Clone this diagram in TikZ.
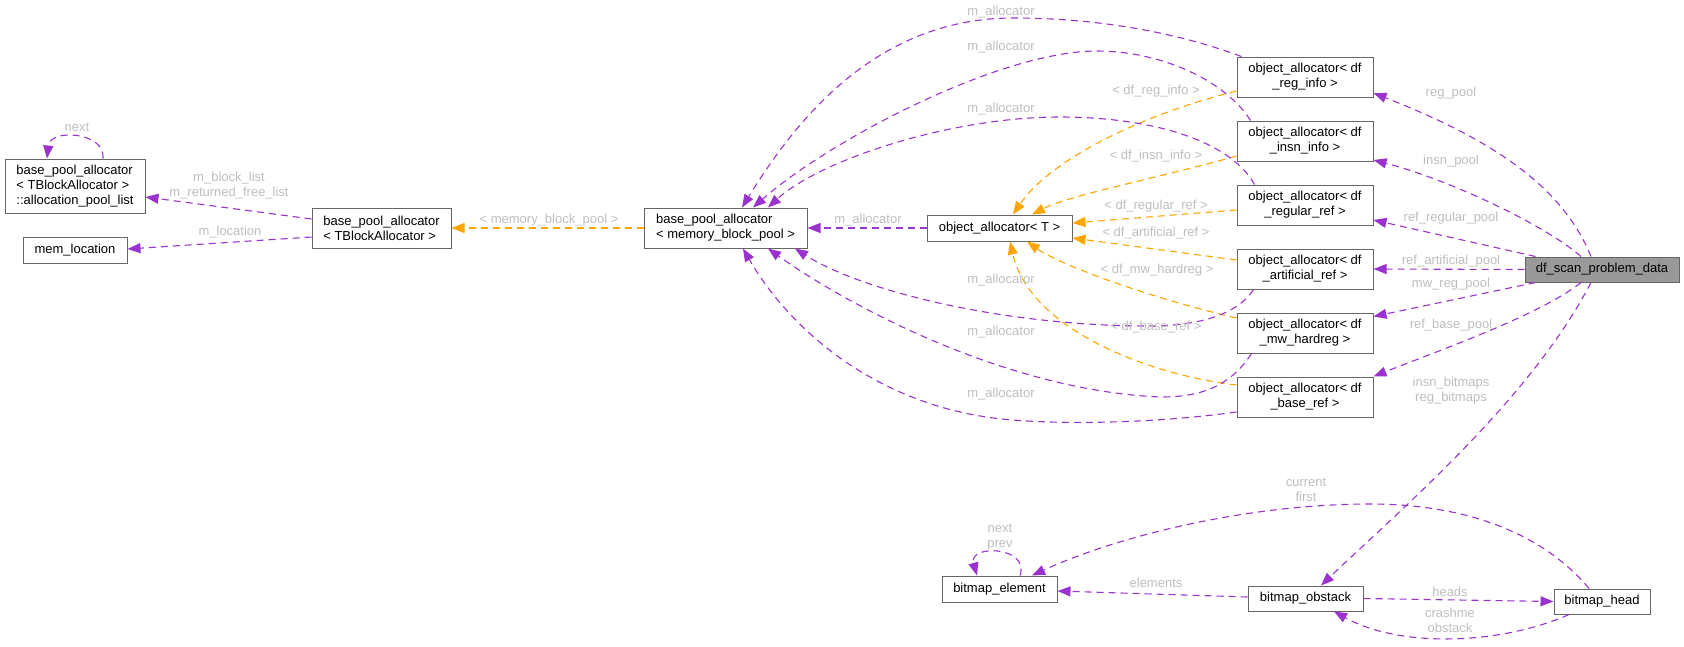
\documentclass[tikz,border=0pt]{standalone}
\usepackage{fontspec}
\setmainfont{Liberation Sans}
\usetikzlibrary{arrows.meta,calc}
\definecolor{relc}{RGB}{154,50,205}
\definecolor{tplc}{RGB}{255,165,0}
\definecolor{lblc}{RGB}{190,190,190}
\definecolor{boxc}{RGB}{102,102,102}
\definecolor{dfc}{RGB}{153,153,153}
\newcommand{\nodefont}{\fontsize{13pt}{15pt}\selectfont}
\begin{document}
\begin{tikzpicture}[x=1pt,y=-1pt,
  box/.style={draw=boxc,line width=1pt,fill=white,inner sep=0pt,align=center,font=\nodefont},
  lbox/.style={box,align=left},
  oabox/.style={box,minimum width=136pt,minimum height=40pt},
  rel/.style={draw=relc,line width=1.1pt,dash pattern=on 7pt off 5pt,-{Triangle[length=13pt,width=10pt]}},
  tpl/.style={draw=tplc,line width=1.1pt,dash pattern=on 7pt off 5pt,-{Triangle[length=13pt,width=10pt]}},
  lbl/.style={text=lblc,inner sep=0pt,align=center,font=\nodefont}]
\useasboundingbox (0,0) rectangle (1684,646);

% nodes
\node[lbox,minimum width=140pt,minimum height=54pt] (apl) at (75,186) {base\_pool\_allocator\\< TBlockAllocator >\\::allocation\_pool\_list};
\node[box,minimum width=104pt,minimum height=26pt] (memloc) at (75,250) {mem\_location};
\node[lbox,minimum width=139pt,minimum height=40pt] (bpaT) at (381.5,228) {base\_pool\_allocator\\< TBlockAllocator >};
\node[lbox,minimum width=163pt,minimum height=40pt] (bpaM) at (725.5,228) {base\_pool\_allocator\\< memory\_block\_pool >};
\node[box,minimum width=145pt,minimum height=26pt] (oaT) at (999.5,228) {object\_allocator< T >};
\node[oabox] (oa1) at (1305,77) {object\_allocator< df\\\_reg\_info >};
\node[oabox] (oa2) at (1305,141) {object\_allocator< df\\\_insn\_info >};
\node[oabox] (oa3) at (1305,205) {object\_allocator< df\\\_regular\_ref >};
\node[oabox] (oa4) at (1305,269) {object\_allocator< df\\\_artificial\_ref >};
\node[oabox] (oa5) at (1305,333) {object\_allocator< df\\\_mw\_hardreg >};
\node[oabox] (oa6) at (1305,397) {object\_allocator< df\\\_base\_ref >};
\node[box,fill=dfc,minimum width=154pt,minimum height=25pt] (dfs) at (1602,269.5) {df\_scan\_problem\_data};
\node[box,minimum width=115pt,minimum height=26pt] (belem) at (999.5,589) {bitmap\_element};
\node[box,minimum width=115pt,minimum height=25pt] (bobst) at (1305.5,598.5) {bitmap\_obstack};
\node[box,minimum width=96pt,minimum height=25pt] (bhead) at (1602,601.5) {bitmap\_head};

% left part
\draw[rel] ($(apl.north)+(28,0)$) .. controls (106,132) and (50,128) .. ($(apl.north)+(-28,0)$);
\draw[rel] ($(bpaT.west)+(0,-9)$) -- ($(apl.east)+(0,11)$);
\draw[rel] ($(bpaT.west)+(0,9)$) -- ($(memloc.east)+(0,-1)$);
\draw[tpl] (bpaM.west) -- (bpaT.east);
\draw[rel] (oaT.west) -- (bpaM.east);

% template instances
\draw[tpl] ($(oa1.west)+(0,14)$) .. controls (1140,115) and (1050,160) .. ($(oaT.north)+(13.5,0)$);
\draw[tpl] ($(oa2.west)+(0,15)$) .. controls (1150,180) and (1070,195) .. ($(oaT.north)+(32.5,0)$);
\draw[tpl] ($(oa3.west)+(0,5)$) -- ($(oaT.east)+(0,-5)$);
\draw[tpl] ($(oa4.west)+(0,-9)$) -- ($(oaT.east)+(0,10)$);
\draw[tpl] ($(oa5.west)+(0,-15)$) .. controls (1150,298) and (1060,265) .. ($(oaT.south)+(27.5,0)$);
\draw[tpl] ($(oa6.west)+(0,-12)$) .. controls (1150,375) and (1030,330) .. ($(oaT.south)+(10.5,0)$);

% m_allocator edges
\draw[rel] ($(oa1.north west)+(5,0)$) .. controls (1170,30) and (1090,18) .. (1013,18) .. controls (870,18) and (790,130) .. ($(bpaM.north)+(16.5,0)$);
\draw[rel] ($(oa2.north west)+(14,0)$) .. controls (1225,80) and (1160,51) .. (1097,51) .. controls (1000,51) and (830,140) .. ($(bpaM.north)+(27.5,0)$);
\draw[rel] ($(oa3.north west)+(18,0)$) .. controls (1230,140) and (1150,117) .. (1060,117) .. controls (950,117) and (820,160) .. ($(bpaM.north)+(42.5,0)$);
\draw[rel] ($(oa4.south west)+(17,0)$) .. controls (1235,318) and (1190,326) .. (1150,326) .. controls (1000,326) and (860,290) .. ($(bpaM.south)+(69.5,0)$);
\draw[rel] ($(oa5.south west)+(15,0)$) .. controls (1228,390) and (1195,397) .. (1160,397) .. controls (1000,390) and (840,300) .. ($(bpaM.south)+(42.5,0)$);
\draw[rel] ($(oa6.west)+(0,15)$) .. controls (1150,424) and (1060,424) .. (1013,420) .. controls (880,410) and (790,330) .. ($(bpaM.south)+(17.5,0)$);

% df_scan_problem_data edges
\draw[rel] ($(dfs.north)+(-11,0)$) .. controls (1560,180) and (1480,135) .. ($(oa1.east)+(0,16)$);
\draw[rel] ($(dfs.north)+(-21,0)$) .. controls (1545,225) and (1450,180) .. ($(oa2.east)+(0,19)$);
\draw[rel] ($(dfs.north west)+(11,0)$) -- ($(oa3.east)+(0,15)$);
\draw[rel] (dfs.west) -- (oa4.east);
\draw[rel] ($(dfs.south west)+(11,0)$) -- ($(oa5.north east)+(0,4)$);
\draw[rel] ($(dfs.south)+(-21,0)$) .. controls (1540,315) and (1440,350) .. (oa6.north east);
\draw[rel] ($(dfs.south)+(-11,0)$) .. controls (1530,400) and (1400,510) .. ($(bobst.north)+(15.5,0)$);

% bitmap part
\draw[rel] ($(bhead.north)+(-13,0)$) .. controls (1540,530) and (1460,504) .. (1370,504) .. controls (1250,504) and (1120,535) .. ($(belem.north)+(32.5,0)$);
\draw[rel] ($(belem.north)+(20.5,0)$) .. controls (1030,546) and (968,544) .. ($(belem.north)+(-22.5,0)$);
\draw[rel] ($(bobst.west)+(0,-1.5)$) -- ($(belem.east)+(0,2)$);
\draw[rel] (bobst.east) -- (bhead.west);
\draw[rel] ($(bhead.south)+(-33,0)$) .. controls (1500,645) and (1400,648) .. ($(bobst.south)+(28.5,0)$);

% labels
\node[lbl] (l1) at (77,127) {next};
\node[lbl] (l2) at (229,186) {m\_block\_list\\m\_returned\_free\_list};
\node[lbl] (l3) at (230,232) {m\_location};
\node[lbl] (l4) at (549,220) {< memory\_block\_pool >};
\node[lbl] (l5) at (868,220) {m\_allocator};
\node[lbl] (l6) at (1001,12) {m\_allocator};
\node[lbl] (l7) at (1001,47) {m\_allocator};
\node[lbl] (l8) at (1001,109) {m\_allocator};
\node[lbl] (l9) at (1001,280) {m\_allocator};
\node[lbl] (l10) at (1001,332) {m\_allocator};
\node[lbl] (l11) at (1001,394) {m\_allocator};
\node[lbl] (l12) at (1156,91) {< df\_reg\_info >};
\node[lbl] (l13) at (1156,156) {< df\_insn\_info >};
\node[lbl] (l14) at (1156,206) {< df\_regular\_ref >};
\node[lbl] (l15) at (1156,233) {< df\_artificial\_ref >};
\node[lbl] (l16) at (1157,270) {< df\_mw\_hardreg >};
\node[lbl] (l17) at (1156,327) {< df\_base\_ref >};
\node[lbl] (l18) at (1451,93) {reg\_pool};
\node[lbl] (l19) at (1451,161) {insn\_pool};
\node[lbl] (l20) at (1451,218) {ref\_regular\_pool};
\node[lbl] (l21) at (1451,261) {ref\_artificial\_pool};
\node[lbl] (l22) at (1451,284) {mw\_reg\_pool};
\node[lbl] (l23) at (1451,325) {ref\_base\_pool};
\node[lbl] (l24) at (1451,391) {insn\_bitmaps\\reg\_bitmaps};
\node[lbl] (l25) at (1306,490) {current\\first};
\node[lbl] (l26) at (1000,537) {next\\prev};
\node[lbl] (l27) at (1156,583) {elements};
\node[lbl] (l28) at (1450,592) {heads};
\node[lbl] (l29) at (1450,620) {crashme\\obstack};
\end{tikzpicture}
\end{document}
